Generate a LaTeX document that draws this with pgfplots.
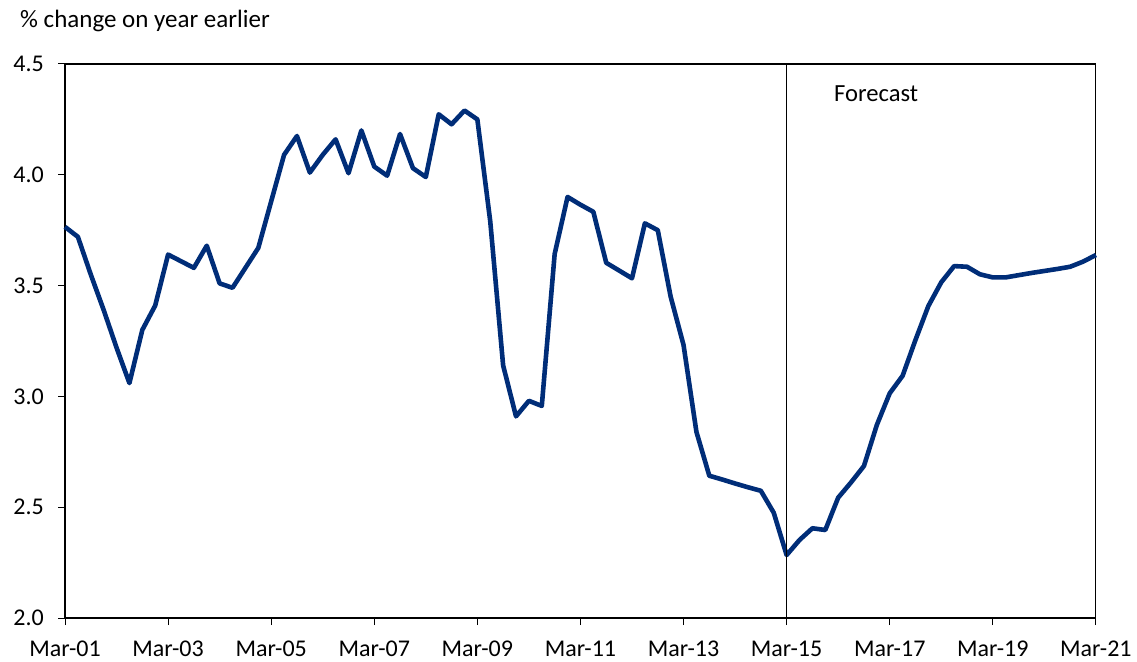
\documentclass[border=0pt]{standalone}
\usepackage{fontspec}
\setmainfont{Carlito}
\usepackage{pgfplots}
\pgfplotsset{compat=1.18}
\definecolor{navy}{RGB}{0,45,120}
\begin{document}
\fontsize{24}{28}\selectfont
\begin{tikzpicture}
\path[use as bounding box] (0,0) rectangle (1137pt,661pt);
\begin{axis}[
  at={(65pt,43pt)}, anchor=south west,
  scale only axis, width=1031pt, height=554pt,
  xmin=0, xmax=80, ymin=2, ymax=4.5,
  xtick={0,8,...,80},
  xticklabels={Mar-01,Mar-03,Mar-05,Mar-07,Mar-09,Mar-11,Mar-13,Mar-15,Mar-17,Mar-19,Mar-21},
  ytick={2,2.5,3,3.5,4,4.5},
  xtick pos=bottom, ytick pos=left,
  yticklabel style={/pgf/number format/fixed,/pgf/number format/fixed zerofill,/pgf/number format/precision=1,xshift=-6pt},
  xticklabel style={yshift=-8pt},
  /pgf/number format/assume math mode=true,
  tick align=outside, major tick length=7pt,
  tick style={black, line width=1pt},
  axis line style={black, line width=1.1pt},
  ticklabel style={font=\fontsize{24}{28}\selectfont},
  clip=false,
]
\addplot[navy, line width=4.6pt, line join=round] coordinates {
(0,3.765) (1,3.72) (2,3.55) (3,3.39) (4,3.22) (5,3.06) (6,3.30) (7,3.41)
(8,3.64) (9,3.61) (10,3.58) (11,3.68) (12,3.51) (13,3.49) (14,3.58) (15,3.67)
(16,3.88) (17,4.09) (18,4.175) (19,4.01) (20,4.09) (21,4.16) (22,4.007) (23,4.20)
(24,4.037) (25,3.996) (26,4.184) (27,4.03) (28,3.99) (29,4.273) (30,4.228) (31,4.29)
(32,4.25) (33,3.79) (34,3.14) (35,2.91) (36,2.98) (37,2.957) (38,3.643) (39,3.90)
(40,3.865) (41,3.833) (42,3.603) (43,3.568) (44,3.533) (45,3.781) (46,3.75) (47,3.45)
(48,3.232) (49,2.84) (50,2.642) (51,2.625) (52,2.607) (53,2.59) (54,2.574) (55,2.475)
(56,2.284) (57,2.352) (58,2.405) (59,2.397) (60,2.543) (61,2.612) (62,2.686) (63,2.871)
(64,3.014) (65,3.093) (66,3.255) (67,3.408) (68,3.515) (69,3.588) (70,3.585) (71,3.551)
(72,3.537) (73,3.537) (74,3.547) (75,3.557) (76,3.566) (77,3.575) (78,3.585) (79,3.608)
(80,3.638)
};
\addplot[black, line width=1.2pt] coordinates {(56,2) (56,4.5)};
\end{axis}
\node[anchor=base west, inner sep=0pt, font=\fontsize{25}{30}\selectfont] at (20pt,633pt) {\% change on year earlier};
\node[anchor=base west, inner sep=0pt, font=\fontsize{24.6}{29}\selectfont] at (834pt,559pt) {Forecast};
\end{tikzpicture}
\end{document}
